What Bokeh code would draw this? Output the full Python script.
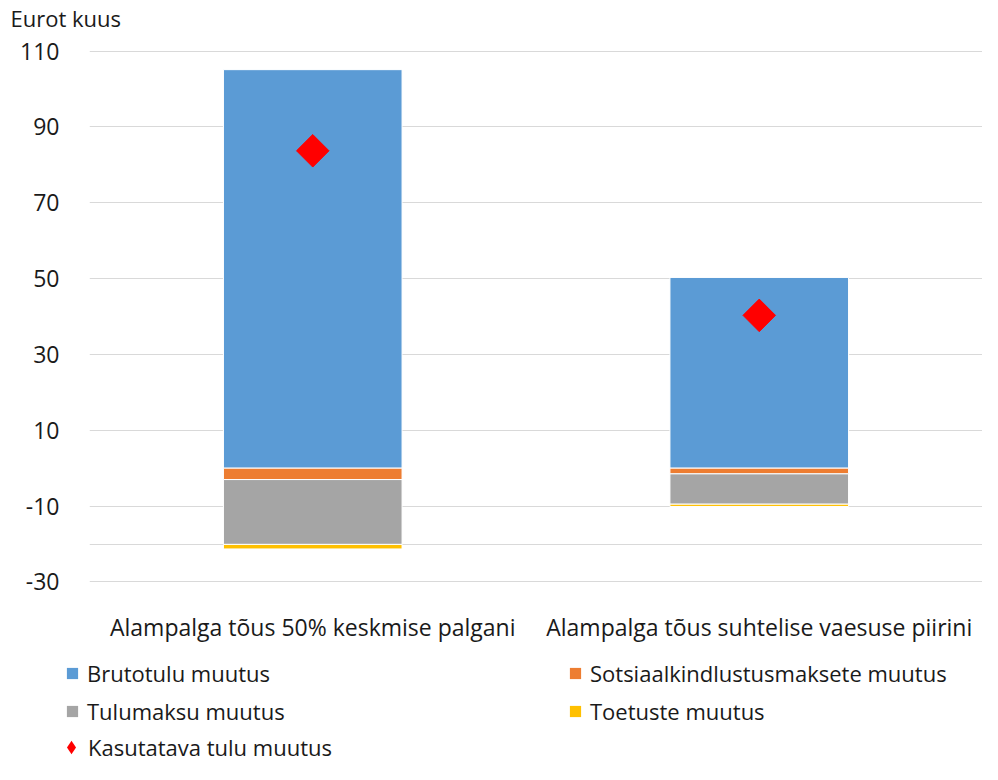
import math
from bokeh.plotting import figure
from bokeh.layouts import column, row
from bokeh.models import (FactorRange, FixedTicker, Legend, LegendItem,
                          ColumnDataSource, Range1d, Title)
from bokeh.embed import file_html
from bokeh.resources import INLINE

# ---- data ----
categories = ["Alampalga tõus 50% keskmise palgani",
              "Alampalga tõus suhtelise vaesuse piirini"]
brutotulu = [105.1, 50.3]
sotsiaalmaks = [-3.0, -1.5]
tulumaks = [-17.1, -8.0]
toetused = [-1.2, -0.6]
kasutatav = [83.7, 40.3]
y_ticks = [-30, -10, 10, 30, 50, 70, 90, 110]
grid_ticks = [-30, -20, -10, 10, 30, 50, 70, 90, 110]
series_labels = ["Brutotulu muutus", "Sotsiaalkindlustusmaksete muutus",
                 "Tulumaksu muutus", "Toetuste muutus", "Kasutatava tulu muutus"]
colors = ["#5B9BD5", "#ED7D31", "#A5A5A5", "#FFC000", "#FF0000"]

# stacked extents
s0 = list(sotsiaalmaks)
s1 = [a + b for a, b in zip(s0, tulumaks)]
s2 = [a + b for a, b in zip(s1, toetused)]
zeros = [0, 0]

src = ColumnDataSource(dict(cat=categories, bruto=brutotulu, z=zeros,
                            s0=s0, s1=s1, s2=s2, kas=kasutatav))

FONT = "Open Sans"
TXT = "#1a1a1a"
W_TOTAL = 982
H_TOP = 34
H_MAIN = 616
H_LEG = 114


def strip(height):
    f = figure(width=W_TOTAL, height=height, output_backend="svg",
               toolbar_location=None, x_range=Range1d(0, 1), y_range=Range1d(0, 1),
               x_axis_location=None, y_axis_location=None,
               min_border_left=0, min_border_right=0, min_border_top=0,
               min_border_bottom=0)
    f.outline_line_color = None
    f.xgrid.visible = False
    f.ygrid.visible = False
    return f


# ---- title strip ----
t = strip(H_TOP)
t.title = Title(text="Eurot kuus", align="left", offset=10, standoff=0,
                text_font=FONT, text_font_size="22px",
                text_font_style="normal", text_color=TXT)

# ---- main chart ----
p = figure(width=W_TOTAL, height=H_MAIN, output_backend="svg", toolbar_location=None,
           x_range=FactorRange(factors=categories, range_padding=0),
           y_range=Range1d(-30.15, 110.15),
           min_border_left=89, min_border_right=0, min_border_top=16,
           min_border_bottom=68)
p.outline_line_color = None
p.background_fill_color = "white"
p.border_fill_color = "white"

W = 0.4
p.vbar(x="cat", top="bruto", bottom="z", width=W, source=src,
       fill_color=colors[0], line_color="white", line_width=1)
p.vbar(x="cat", top="z", bottom="s0", width=W, source=src,
       fill_color=colors[1], line_color="white", line_width=1)
p.vbar(x="cat", top="s0", bottom="s1", width=W, source=src,
       fill_color=colors[2], line_color="white", line_width=1)
p.vbar(x="cat", top="s1", bottom="s2", width=W, source=src,
       fill_color=colors[3], line_color="white", line_width=1)
p.scatter(x="cat", y="kas", source=src, marker="square",
          angle=math.pi / 4, size=23, fill_color=colors[4],
          line_color=colors[4])

p.yaxis.ticker = FixedTicker(ticks=y_ticks)
p.yaxis.major_label_overrides = {v: str(v) for v in y_ticks}
p.ygrid.ticker = FixedTicker(ticks=grid_ticks)
p.ygrid.grid_line_color = "#D9D9D9"
p.ygrid.grid_line_width = 1
p.xgrid.grid_line_color = None
for ax in (p.xaxis[0], p.yaxis[0]):
    ax.axis_line_color = None
    ax.major_tick_line_color = None
    ax.minor_tick_line_color = None
    ax.major_label_text_font = FONT
    ax.major_label_text_color = TXT
p.yaxis.major_label_text_font_size = "23px"
p.xaxis.major_label_text_font_size = "23px"
p.yaxis.major_label_standoff = 24
p.xaxis.major_label_standoff = 22

# ---- legend strip ----
q = strip(H_LEG)
# legend-key renderers (single point kept outside the visible range)
key_src = ColumnDataSource(dict(x=[-5], y=[-5]))
rs = []
for c in colors[:4]:
    rs.append(q.vbar(x="x", top="y", width=1, source=key_src, fill_color=c,
                     line_color=None))
rs.append(q.scatter(x="x", y="y", source=key_src, marker="diamond", size=20,
                    fill_color=colors[4], line_color=None))


def make_legend(idx, loc, glyph=14, standoff=8):
    return Legend(items=[LegendItem(label=series_labels[i], renderers=[rs[i]]) for i in idx],
                  location=loc, orientation="vertical",
                  label_text_font=FONT, label_text_font_size="22px",
                  label_text_color=TXT, glyph_width=glyph, glyph_height=glyph,
                  label_height=24, label_standoff=standoff, spacing=8,
                  padding=0, margin=0, border_line_color=None,
                  background_fill_alpha=0)


q.add_layout(make_legend([0, 2], (65, 38)), "center")
q.add_layout(make_legend([1, 3], (568, 38)), "center")
q.add_layout(make_legend([4], (54, 0), glyph=34, standoff=0), "center")

layout = column(row(t), p, row(q), spacing=0)
open("out.html", "w").write(file_html(layout, INLINE))
